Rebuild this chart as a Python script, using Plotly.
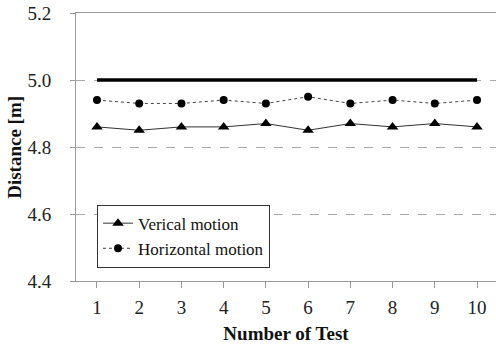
import plotly.graph_objects as go

tests = [1, 2, 3, 4, 5, 6, 7, 8, 9, 10]
reference = [5.0] * 10
vertical = [4.86, 4.85, 4.86, 4.86, 4.87, 4.85, 4.87, 4.86, 4.87, 4.86]
horizontal = [4.94, 4.93, 4.93, 4.94, 4.93, 4.95, 4.93, 4.94, 4.93, 4.94]
y_ticks = [4.4, 4.6, 4.8, 5.0, 5.2]
y_ticktext = ["4.4", "4.6", "4.8", "5.0", "5.2"]

font = "Liberation Serif"

fig = go.Figure()
fig.add_trace(go.Scatter(x=tests, y=reference, mode="lines",
                         line=dict(color="black", width=3.5), showlegend=False))
fig.add_trace(go.Scatter(x=tests, y=vertical, mode="lines+markers", name="Verical motion",
                         line=dict(color="#333333", width=1),
                         marker=dict(symbol="triangle-up", size=10, color="black")))
fig.add_trace(go.Scatter(x=tests, y=horizontal, mode="lines+markers", name="Horizontal motion",
                         line=dict(color="#444444", width=1, dash="3px,3px"),
                         marker=dict(symbol="circle", size=8, color="black")))

fig.update_layout(
    width=496, height=345,
    margin=dict(l=76, r=0, t=13, b=64),
    paper_bgcolor="white", plot_bgcolor="white",
    font=dict(family=font, color="#222222", size=19),
    legend=dict(x=0.05, y=0.285, xanchor="left", yanchor="top",
                bordercolor="#333333", borderwidth=1, bgcolor="white",
                font=dict(family=font, size=17, color="#111111"),
                tracegroupgap=0, itemwidth=30),
    xaxis=dict(range=[0.503, 10.45], tickvals=tests, ticktext=[str(t) for t in tests],
               automargin=False,
               showgrid=False, zeroline=False, showline=True, mirror=True,
               linecolor="#999999", linewidth=1,
               ticks="outside", ticklen=6, tickcolor="#999999",
               ticklabelstandoff=3,
               tickfont=dict(family=font, size=19),
               title=dict(text="<b>Number of Test</b>", font=dict(family=font, size=19, color="#111111"),
                          standoff=9)),
    yaxis=dict(range=[4.4, 5.2], tickvals=y_ticks, ticktext=y_ticktext,
               automargin=False,
               showgrid=True, gridcolor="#aaaaaa", griddash="dash", gridwidth=1,
               zeroline=False, showline=True, linecolor="#999999", linewidth=1,
               ticks="outside", ticklen=5, tickcolor="#999999",
               ticklabelstandoff=15,
               tickfont=dict(family=font, size=19)),
    annotations=[dict(text="<b>Distance [m]</b>", xref="paper", yref="paper",
                      x=-0.148, y=0.5, xanchor="center", yanchor="middle",
                      textangle=-90, showarrow=False,
                      font=dict(family=font, size=19, color="#111111"))],
)

fig.write_html("out.html", config={"displayModeBar": False},
               post_script="document.body.style.margin='0';document.body.style.overflow='hidden';")
